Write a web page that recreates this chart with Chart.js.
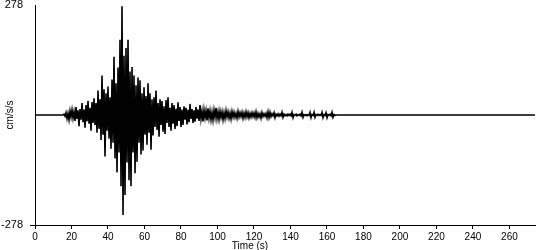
<!DOCTYPE html>
<html>
<head>
<meta charset="utf-8">
<script src="https://cdn.jsdelivr.net/npm/chart.js@4/dist/chart.umd.min.js"></script>
<style>
  html, body { margin: 0; padding: 0; background: #fff; }
  #c { display: block; }
</style>
</head>
<body>
<canvas id="c" width="550" height="250"></canvas>
<script>
// ---- data ----
const xTickValues = [0, 20, 40, 60, 80, 100, 120, 140, 160, 180, 200, 220, 240, 260];
const yTickValues = [-278, 278];
const timeMin = 0;
const timeMax = 274;
const yTitle = 'cm/s/s';
const xTitle = 'Time (s)';

// quiet record before the first arrival and after the coda
const quietStartTime = 0;
const quietEndTime = 274;

// acceleration samples (cm/s/s), one every sampleStep seconds from sampleStart
const sampleStart = 15.9;
const sampleStep = 0.548;
const accel = [
  2,-3,6,-9,4,-12,10,-5,13,-8,
  8,-15,20,-10,12,-28,15,-12,30,-18,
  14,-32,25,-16,36,-22,18,-40,33,-20,
  42,-25,30,-45,62,-35,40,-63,100,-50,
  65,-105,55,-40,72,-60,45,-85,90,-70,
  147,-110,80,-145,120,-95,190,-180,275,-253,
  150,-202,169,-120,190,-165,110,-180,121,-95,
  100,-147,75,-118,95,-70,88,-100,55,-90,
  70,-50,48,-75,80,-45,55,-88,40,-52,
  45,-30,62,-38,30,-55,40,-25,35,-42,
  22,-48,38,-20,45,-30,18,-40,30,-22,
  25,-35,16,-28,32,-15,20,-30,14,-25,
  22,-12,18,-24,13,-18,28,-10,15,-20,
  12,-17,20,-9,14,-15,25,-10,9,-16,
  13,-7,11,-14,17,-8,10,-12,7,-13,
  12,-6,18,-9,8,-11,10,-6,8,-12,
  6,-9,11,-5,8,-8,5,-10,9,-5,
  7,-6,4,-8,9,-5,6,-4,7,-8,
  5,-6,8,-5,6,-7,4,-5,6,-4,
  5,-6,8,-7,4,-5,3,-8,6,-4,
  3,-3,4,-7,8,-6,7,-4,3,-2,
  6,-7,2,-2,3,-3,2,-2,7,-6,
  2,-2,1,-2,2,-1,2,-2,7,-7,
  1,-1,2,-2,1,-1,2,-2,7,-6,
  1,-1,1,-2,1,-1,7,-7,1,-1,
  7,-6,1,-1,2,-1,1,-1,7,-7,
  1,-1,6,-7,1,-1,2,-2,7,-6,
  1,-1
];

// ---- build points ----
const points = [{x: quietStartTime, y: 0}, {x: sampleStart - sampleStep, y: 0}];
accel.forEach((v, i) => points.push({x: sampleStart + i * sampleStep, y: v}));
points.push({x: sampleStart + accel.length * sampleStep, y: 0});
points.push({x: quietEndTime, y: 0});

const FONT = "'Liberation Sans', Arial, sans-serif";

const xTitlePlugin = {
  id: 'xTitlePlugin',
  afterDraw(chart) {
    const ctx = chart.ctx;
    ctx.save();
    ctx.font = '10px ' + FONT;
    ctx.fillStyle = '#000';
    ctx.textAlign = 'center';
    ctx.textBaseline = 'middle';
    ctx.fillText(xTitle, 250, 246);
    ctx.restore();
  }
};

new Chart(document.getElementById('c'), {
  type: 'line',
  data: {
    datasets: [{
      data: points,
      borderColor: '#000',
      borderWidth: 1.6,
      pointRadius: 0,
      tension: 0,
      fill: false
    }]
  },
  options: {
    responsive: false,
    animation: false,
    devicePixelRatio: 1,
    parsing: false,
    normalized: true,
    layout: { autoPadding: false, padding: { top: 5, right: 15, left: 0, bottom: 0 } },
    plugins: { legend: { display: false }, tooltip: { enabled: false } },
    scales: {
      x: {
        type: 'linear',
        min: timeMin,
        max: timeMax,
        afterBuildTicks(s) { s.ticks = xTickValues.map(v => ({value: v})); },
        afterFit(s) { s.height = 25; s.paddingLeft = 0; s.paddingRight = 0; },
        border: { display: true, color: '#000', width: 1 },
        grid: { drawOnChartArea: false, drawTicks: true, tickLength: 4, color: '#000' },
        ticks: { color: '#000', font: { family: FONT, size: 10 }, padding: 2, maxRotation: 0, autoSkip: false }
      },
      y: {
        type: 'linear',
        min: yTickValues[0],
        max: yTickValues[1],
        afterBuildTicks(s) { s.ticks = yTickValues.map(v => ({value: v})); },
        afterFit(s) { s.width = 35; s.paddingTop = 0; s.paddingBottom = 0; },
        border: { display: true, color: '#000', width: 1 },
        grid: {
          drawOnChartArea: false, drawTicks: true, tickLength: 5,
          color: (c) => (c.tick && c.tick.value === yTickValues[0]) ? '#000' : 'rgba(0,0,0,0)'
        },
        ticks: { color: '#000', font: { family: FONT, size: 11 }, padding: 7, autoSkip: false },
        title: { display: true, text: yTitle, color: '#000', font: { family: FONT, size: 10 }, padding: { top: 4, bottom: 0 } }
      }
    }
  },
  plugins: [xTitlePlugin]
});
</script>
</body>
</html>
